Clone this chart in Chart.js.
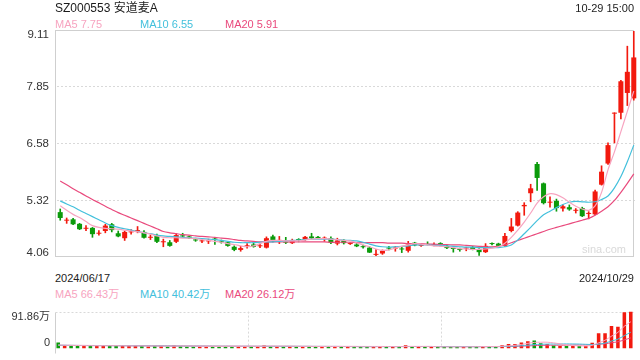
<!DOCTYPE html>
<html>
<head>
<meta charset="utf-8">
<script src="https://cdn.jsdelivr.net/npm/chart.js@4.4.0/dist/chart.umd.min.js"></script>
<style>
  body { margin: 0; background: #fff; }
  #wrap { position: relative; width: 640px; height: 360px; overflow: hidden;
          font-family: "Liberation Sans", Arial, "Noto Sans CJK SC", sans-serif; }
  #wrap canvas { position: absolute; left: 0; }
  .txt { position: absolute; white-space: nowrap; line-height: 1; font-size: 11px; }
</style>
</head>
<body>
<div id="wrap">
  <canvas id="kline" width="640" height="272" style="top:0"></canvas>
  <canvas id="vol" width="640" height="60" style="top:300px"></canvas>

  <div class="txt" id="title" style="left:55px;top:1.5px;font-size:12px;color:#1a1a1a"></div>
  <div class="txt" id="stamp" style="right:6px;top:2.5px;color:#222"></div>
  <div class="txt" id="ma5" style="left:55px;top:18.5px;color:#f7a4c0"></div>
  <div class="txt" id="ma10" style="left:140px;top:18.5px;color:#43c0dc"></div>
  <div class="txt" id="ma20" style="left:225px;top:18.5px;color:#e94a7d"></div>
  <div class="txt" id="sina" style="left:582px;top:244px;color:#d9d9d9">sina.com</div>
  <div class="txt" id="dFirst" style="left:55px;top:272.5px;color:#222"></div>
  <div class="txt" id="dLast" style="right:6px;top:272.5px;color:#222"></div>
  <div class="txt" id="vma5" style="left:55px;top:289px;color:#f7a4c0"></div>
  <div class="txt" id="vma10" style="left:140px;top:289px;color:#43c0dc"></div>
  <div class="txt" id="vma20" style="left:225px;top:289px;color:#e94a7d"></div>
</div>

<script>
const stockName = 'SZ000553 安道麦A';
const stampText = '10-29 15:00';

// trading days 2024/06/17 .. 2024/10/29
const tradeDays = [
  '2024/06/17','2024/06/18','2024/06/19','2024/06/20','2024/06/21','2024/06/24','2024/06/25','2024/06/26','2024/06/27','2024/06/28',
  '2024/07/01','2024/07/02','2024/07/03','2024/07/04','2024/07/05','2024/07/08','2024/07/09','2024/07/10','2024/07/11','2024/07/12',
  '2024/07/15','2024/07/16','2024/07/17','2024/07/18','2024/07/19','2024/07/22','2024/07/23','2024/07/24','2024/07/25','2024/07/26',
  '2024/07/29','2024/07/30','2024/07/31','2024/08/01','2024/08/02','2024/08/05','2024/08/06','2024/08/07','2024/08/08','2024/08/09',
  '2024/08/12','2024/08/13','2024/08/14','2024/08/15','2024/08/16','2024/08/19','2024/08/20','2024/08/21','2024/08/22','2024/08/23',
  '2024/08/26','2024/08/27','2024/08/28','2024/08/29','2024/08/30','2024/09/02','2024/09/03','2024/09/04','2024/09/05','2024/09/06',
  '2024/09/09','2024/09/10','2024/09/11','2024/09/12','2024/09/13','2024/09/18','2024/09/19','2024/09/20','2024/09/23','2024/09/24',
  '2024/09/25','2024/09/26','2024/09/27','2024/09/30','2024/10/08','2024/10/09','2024/10/10','2024/10/11','2024/10/14','2024/10/15',
  '2024/10/16','2024/10/17','2024/10/18','2024/10/21','2024/10/22','2024/10/23','2024/10/24','2024/10/25','2024/10/28','2024/10/29'
];

const opens = [
  5.06,4.87,4.90,4.80,4.69,4.71,4.58,4.64,4.79,4.59, 4.48,4.61,4.63,4.62,4.49,4.53,4.39,4.39,4.40,4.54,
  4.52,4.45,4.41,4.41,4.47,4.41,4.39,4.29,4.22,4.30, 4.34,4.30,4.27,4.52,4.42,4.40,4.37,4.46,4.44,4.52,
  4.51,4.47,4.48,4.36,4.43,4.35,4.34,4.30,4.27,4.11, 4.14,4.27,4.25,4.25,4.20,4.38,4.31,4.35,4.32,4.37,
  4.31,4.26,4.24,4.25,4.28,4.24,4.17,4.36,4.36,4.31, 4.64,4.76,5.19,5.48,6.13,5.70,5.27,5.31,5.14,5.17,
  5.09,5.15,5.02,5.01,5.67,6.14,7.25,7.27,7.71,7.59
];
const highs = [
  5.13,4.93,4.92,4.81,4.76,4.72,4.65,4.79,4.81,4.64, 4.64,4.67,4.74,4.65,4.55,4.57,4.46,4.43,4.58,4.59,
  4.53,4.48,4.46,4.46,4.48,4.44,4.41,4.31,4.30,4.36, 4.38,4.35,4.51,4.55,4.52,4.50,4.46,4.47,4.52,4.59,
  4.52,4.51,4.51,4.48,4.45,4.38,4.36,4.33,4.29,4.23, 4.22,4.30,4.30,4.28,4.41,4.39,4.36,4.40,4.38,4.38,
  4.33,4.28,4.26,4.28,4.30,4.25,4.36,4.38,4.37,4.59, 4.92,5.07,5.27,5.68,6.17,5.71,5.40,5.35,5.22,5.22,
  5.14,5.17,5.07,5.55,6.09,6.60,7.27,7.99,8.75,9.08
];
const lows = [
  4.88,4.81,4.78,4.67,4.65,4.50,4.55,4.60,4.62,4.51, 4.43,4.57,4.60,4.48,4.45,4.38,4.29,4.30,4.38,4.49,
  4.47,4.41,4.38,4.36,4.34,4.37,4.30,4.20,4.19,4.26, 4.28,4.27,4.26,4.40,4.36,4.36,4.36,4.40,4.43,4.47,
  4.47,4.41,4.36,4.33,4.35,4.34,4.29,4.26,4.16,4.09, 4.12,4.22,4.19,4.16,4.17,4.31,4.30,4.33,4.31,4.30,
  4.25,4.17,4.19,4.20,4.22,4.10,4.16,4.33,4.30,4.30, 4.62,4.75,4.99,5.29,5.54,5.24,5.17,5.08,5.08,5.10,
  5.04,4.96,4.91,5.00,5.66,6.12,6.60,7.13,7.43,7.55
];
const closes = [
  4.93,4.89,4.79,4.68,4.71,4.57,4.60,4.76,4.66,4.52, 4.62,4.63,4.66,4.49,4.51,4.40,4.41,4.31,4.55,4.52,
  4.48,4.43,4.43,4.43,4.45,4.39,4.31,4.22,4.26,4.32, 4.29,4.32,4.48,4.41,4.44,4.38,4.43,4.44,4.51,4.48,
  4.48,4.49,4.38,4.43,4.37,4.37,4.30,4.28,4.16,4.13, 4.20,4.25,4.27,4.23,4.34,4.32,4.33,4.33,4.34,4.31,
  4.26,4.24,4.22,4.27,4.23,4.17,4.31,4.35,4.31,4.53, 4.74,5.05,5.22,5.59,5.82,5.26,5.29,5.15,5.19,5.12,
  5.11,4.97,5.04,5.52,5.96,6.55,7.27,7.97,8.18,8.50
];

// price moving averages
const ma5 = [
  5.20,5.10,5.01,4.94,4.85,4.76,4.72,4.70,4.69,4.68, 4.66,4.64,4.62,4.60,4.57,4.53,4.50,4.49,4.49,4.48,
  4.48,4.47,4.45,4.43,4.41,4.39,4.36,4.34,4.31,4.29, 4.31,4.36,4.41,4.43,4.43,4.42,4.42,4.42,4.44,4.46,
  4.47,4.47,4.46,4.45,4.43,4.42,4.38,4.33,4.29,4.24, 4.21,4.22,4.26,4.30,4.33,4.36,4.35,4.33,4.31,4.30,
  4.29,4.27,4.25,4.24,4.23,4.23,4.24,4.26,4.29,4.37, 4.50,4.66,4.84,5.04,5.26,5.40,5.47,5.45,5.38,5.28,
  5.19,5.13,5.10,5.20,5.50,6.00,6.40,6.85,7.30,7.75
];
const ma10 = [
  5.31,5.24,5.18,5.10,5.03,4.96,4.89,4.82,4.76,4.72, 4.69,4.66,4.63,4.60,4.58,4.55,4.53,4.52,4.51,4.50,
  4.49,4.48,4.47,4.46,4.45,4.43,4.41,4.39,4.38,4.38, 4.38,4.39,4.40,4.40,4.41,4.42,4.43,4.44,4.45,4.46,
  4.46,4.46,4.46,4.45,4.44,4.43,4.42,4.39,4.35,4.31, 4.29,4.28,4.29,4.30,4.31,4.33,4.33,4.33,4.32,4.32,
  4.31,4.30,4.29,4.28,4.28,4.27,4.27,4.27,4.27,4.29, 4.33,4.44,4.58,4.72,4.87,5.00,5.08,5.16,5.23,5.28,
  5.30,5.29,5.28,5.29,5.34,5.42,5.60,5.85,6.18,6.55
];
const ma20 = [
  5.75,5.67,5.58,5.50,5.42,5.34,5.27,5.19,5.12,5.05, 4.99,4.93,4.87,4.81,4.75,4.69,4.63,4.60,4.58,4.56,
  4.55,4.53,4.52,4.51,4.50,4.48,4.47,4.45,4.43,4.42, 4.41,4.40,4.40,4.40,4.40,4.40,4.40,4.40,4.40,4.40,
  4.40,4.40,4.39,4.39,4.39,4.39,4.38,4.38,4.38,4.38, 4.38,4.37,4.37,4.37,4.36,4.36,4.36,4.35,4.35,4.34,
  4.34,4.33,4.33,4.32,4.31,4.30,4.29,4.29,4.30,4.33, 4.38,4.43,4.48,4.53,4.58,4.63,4.68,4.72,4.76,4.80,
  4.84,4.88,4.92,4.99,5.08,5.18,5.32,5.50,5.70,5.91
];

// volume in 万 (10k shares)
const volumes = [
  15,8,7,7,6,8,6,7,7,6, 7,6,6,6,5,6,6,5,7,6,
  5,5,5,5,5,5,5,6,5,5, 5,5,7,6,5,5,5,5,5,5,
  4,4,5,5,4,4,4,4,5,5, 5,4,4,4,8,5,4,4,4,4,
  4,4,4,4,4,5,6,4,4,8, 11,11,15,18,20,13,11,7,6,6,
  6,6,6,14,38,38,56,54,90.5,91.86
];
const vma5 = [
  8.5,8,7.5,7.2,7,6.8,6.8,6.8,6.8,6.8, 6.6,6.4,6.4,6.2,6,6,5.8,5.6,5.8,5.8,
  5.8,5.6,5.4,5.2,5,5,5,5.2,5.2,5.2, 5.2,5.2,5.4,5.6,5.6,5.6,5.6,5.2,5,5,
  4.8,4.6,4.6,4.6,4.6,4.4,4.4,4.2,4.2,4.4, 4.6,4.6,4.6,4.4,5,5,5,5,5,4.2,
  4,4,4,4,4,4.2,4.6,4.6,4.6,5.4, 6.6,7.8,9.8,12.6,15,15.4,15.4,13.8,11.4,8.6,
  7.2,6.2,6,7.6,14,20.4,30.4,40,55.3,66.43
];
const vma10 = [
  8,7.8,7.6,7.4,7.2,7.1,7,7,6.9,6.8, 6.7,6.6,6.5,6.4,6.3,6.2,6.1,6,5.9,5.8,
  5.7,5.6,5.5,5.4,5.4,5.3,5.3,5.2,5.2,5.2, 5.2,5.2,5.2,5.2,5.2,5.2,5.2,5.2,5.1,5.1,
  5,5,4.9,4.9,4.8,4.7,4.6,4.5,4.4,4.4, 4.4,4.4,4.4,4.4,4.6,4.7,4.7,4.7,4.7,4.6,
  4.5,4.5,4.5,4.4,4.4,4.3,4.3,4.3,4.3,4.8, 5.3,5.9,6.8,8,9.5,10.2,10.7,11,11,11.2,
  11.1,10.8,10.2,9.8,10.6,13.3,18.3,23.1,31.9,40.42
];
const vma20 = [
  7.6,7.5,7.5,7.4,7.4,7.3,7.2,7.1,7,6.9, 6.8,6.8,6.7,6.6,6.5,6.4,6.3,6.2,6.1,6,
  5.9,5.9,5.8,5.8,5.7,5.6,5.6,5.5,5.5,5.4, 5.4,5.3,5.3,5.3,5.2,5.2,5.2,5.1,5.1,5.1,
  5,5,5,5,4.9,4.9,4.9,4.8,4.8,4.8, 4.8,4.7,4.7,4.7,4.7,4.7,4.6,4.6,4.6,4.6,
  4.5,4.5,4.5,4.5,4.5,4.5,4.5,4.5,4.5,4.7, 4.8,5.1,5.6,6.2,7,7.4,7.8,7.9,8,8.1,
  8.4,8.6,8.6,9,10.4,11.6,14,16.5,21.3,26.12
];

// axis labels
const priceTicks = [9.11, 7.85, 6.58, 5.32, 4.06];
const volTicks = [91.86, 0];
const volTickLabels = ['91.86万', '0'];

const UP = '#f2190e', DOWN = '#0b9b0b';
const C_MA5 = '#f7a4c0', C_MA10 = '#43c0dc', C_MA20 = '#e94a7d';
const GRID = '#d9d9d9', FRAME = '#cfcfcf';

Chart.defaults.font.family = '"Liberation Sans", Arial, "Noto Sans CJK SC", sans-serif';
Chart.defaults.font.size = 11.5;
Chart.defaults.color = '#333';

const candleColors = closes.map((c, i) => c >= opens[i] ? UP : DOWN);

// top/bottom axis labels sit a few px inside the frame, like on sina
function insetTicks(values, nudge) {
  return (scale) => {
    const last = values.length - 1;
    scale.ticks = values.map((v, i) => ({ value: i === 0 ? v - nudge : (i === last ? v + nudge : v) }));
  };
}

const framePlugin = {
  id: 'frame',
  beforeDatasetsDraw(chart, args, opts) {
    const { ctx, chartArea: a } = chart;
    const l = Math.round(a.left + (opts.dl || 0)) + 0.5;
    const r = Math.round(a.right + (opts.dr || 0)) - 0.5;
    const t = Math.round(a.top) + 0.5;
    const b = Math.round(a.bottom) - 0.5;
    ctx.save();
    ctx.lineWidth = 1;
    ctx.strokeStyle = FRAME;
    if (opts.box) {
      ctx.strokeRect(l, t, r - l, b - t);
    } else {
      ctx.beginPath(); ctx.moveTo(l, t); ctx.lineTo(l, b + 6); ctx.stroke();
      ctx.strokeStyle = GRID;
      ctx.setLineDash([2, 2]);
      ctx.beginPath(); ctx.moveTo(l, t); ctx.lineTo(r, t); ctx.stroke();
    }
    ctx.restore();
  }
};

function maLine(data, color, width) {
  return { type: 'line', data: data, borderColor: color, borderWidth: width, pointRadius: 0,
           tension: 0.3, fill: false, order: 0 };
}

// candlestick pane
new Chart(document.getElementById('kline'), {
  type: 'bar',
  data: {
    labels: tradeDays,
    datasets: [
      { data: lows.map((l, i) => [l, highs[i]]), backgroundColor: candleColors,
        barThickness: 1, grouped: false, order: 3 },
      { data: opens.map((o, i) => [o, closes[i]]), backgroundColor: candleColors,
        barPercentage: 0.78, categoryPercentage: 1, grouped: false, minBarLength: 1, order: 2 },
      maLine(ma5, C_MA5, 1.2),
      maLine(ma10, C_MA10, 1.2),
      maLine(ma20, C_MA20, 1.2)
    ]
  },
  options: {
    responsive: false,
    animation: false,
    devicePixelRatio: 1,
    layout: { padding: { top: 30, right: 3, bottom: 3, left: 0 } },
    plugins: { legend: { display: false }, tooltip: { enabled: false }, frame: { box: true, dl: -2, dr: -3 } },
    scales: {
      x: { type: 'category', offset: true, display: false },
      y: {
        position: 'left',
        min: 4.06, max: 9.11,
        afterBuildTicks: insetTicks(priceTicks, 0.106),
        afterFit: (s) => { s.width = 57; },
        ticks: { padding: 8, callback: (v, i) => priceTicks[i].toFixed(2) },
        grid: { drawTicks: false,
                color: (c) => (c.index === 0 || c.index === priceTicks.length - 1) ? 'rgba(0,0,0,0)' : GRID },
        border: { display: false, dash: [2, 2] }
      }
    }
  },
  plugins: [framePlugin]
});

// volume pane
new Chart(document.getElementById('vol'), {
  type: 'bar',
  data: {
    labels: tradeDays,
    datasets: [
      { data: volumes, backgroundColor: candleColors, barPercentage: 0.55, categoryPercentage: 1, order: 2 },
      maLine(vma5, C_MA5, 1),
      maLine(vma10, C_MA10, 1),
      maLine(vma20, C_MA20, 1)
    ]
  },
  options: {
    responsive: false,
    animation: false,
    devicePixelRatio: 1,
    layout: { padding: { top: 4, right: 6, bottom: 5, left: 0 } },
    plugins: { legend: { display: false }, tooltip: { enabled: false }, frame: { box: false } },
    scales: {
      x: {
        type: 'category', offset: true,
        afterFit: (s) => { s.height = 0; },
        ticks: { display: false },
        grid: { offset: true, drawTicks: false,
                color: (c) => (c.index === 30 || c.index === 60) ? GRID : 'rgba(0,0,0,0)' },
        border: { display: false, dash: [2, 2] }
      },
      y: {
        position: 'left',
        min: 0, max: volTicks[0],
        afterBuildTicks: insetTicks(volTicks, 12.6),
        afterFit: (s) => { s.width = 55; },
        ticks: { padding: 5, font: { size: 11 }, callback: (v, i) => volTickLabels[i] },
        grid: { drawTicks: false, color: 'rgba(0,0,0,0)' },
        border: { display: false }
      }
    }
  },
  plugins: [framePlugin]
});

// header / footer texts
const last = (arr) => arr[arr.length - 1];
document.getElementById('title').textContent = stockName;
document.getElementById('stamp').textContent = stampText;
document.getElementById('ma5').textContent = 'MA5 ' + last(ma5).toFixed(2);
document.getElementById('ma10').textContent = 'MA10 ' + last(ma10).toFixed(2);
document.getElementById('ma20').textContent = 'MA20 ' + last(ma20).toFixed(2);
document.getElementById('dFirst').textContent = tradeDays[0];
document.getElementById('dLast').textContent = last(tradeDays);
document.getElementById('vma5').textContent = 'MA5 ' + last(vma5).toFixed(2) + '万';
document.getElementById('vma10').textContent = 'MA10 ' + last(vma10).toFixed(2) + '万';
document.getElementById('vma20').textContent = 'MA20 ' + last(vma20).toFixed(2) + '万';
</script>
</body>
</html>
